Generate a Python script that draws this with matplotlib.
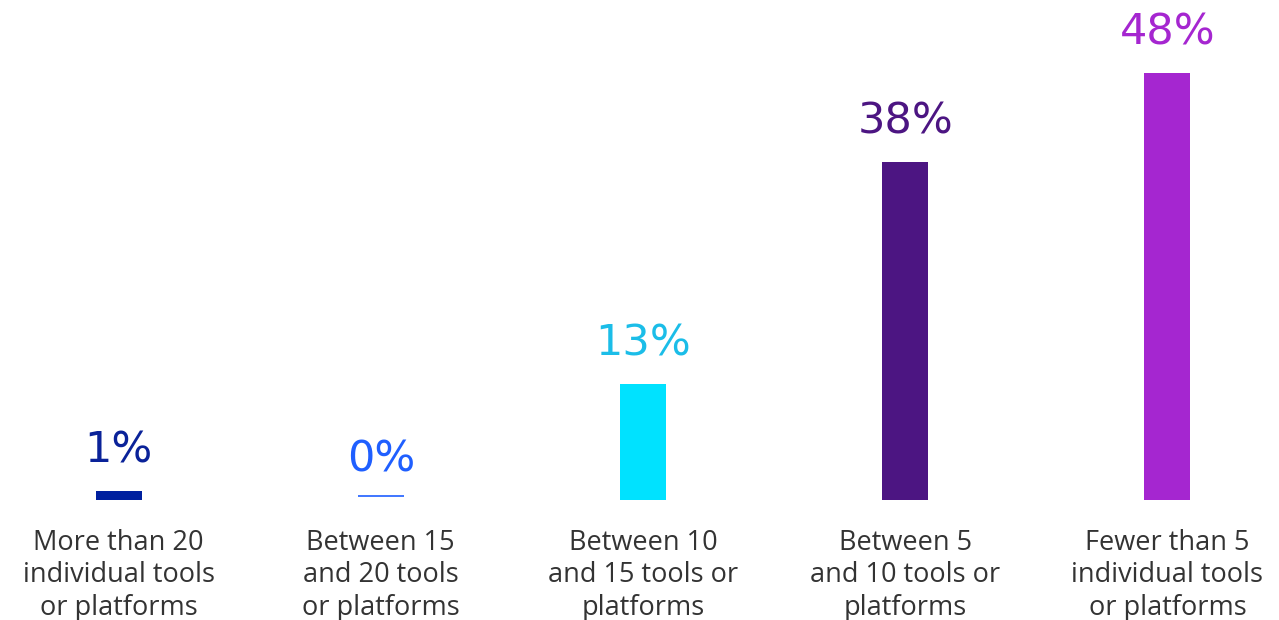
import matplotlib
matplotlib.use("Agg")
import matplotlib.pyplot as plt

categories = [
    "More than 20\nindividual tools\nor platforms",
    "Between 15\nand 20 tools\nor platforms",
    "Between 10\nand 15 tools or\nplatforms",
    "Between 5\nand 10 tools or\nplatforms",
    "Fewer than 5\nindividual tools\nor platforms",
]
values = [1, 0, 13, 38, 48]
bar_colors = ["#00209F", "#1F5FFF", "#00E2FF", "#4C1582", "#A526D0"]
label_colors = ["#0A2299", "#1F5FFF", "#1BBDE8", "#4C1582", "#A526D0"]

plt.rcParams["font.family"] = ["Open Sans", "DejaVu Sans"]

fig = plt.figure(figsize=(12.79, 6.2), dpi=100)
ax = fig.add_axes([0, 0.1935, 1, 0.8065])

x = list(range(len(values)))
bar_w = 0.175
ax.bar(x, values, width=bar_w, color=bar_colors, linewidth=0)

# zero-valued bar shown as a thin hairline
for xi, v, c in zip(x, values, bar_colors):
    if v == 0:
        ax.plot([xi - bar_w / 2, xi + bar_w / 2], [0.45, 0.45], color=c,
                lw=1.2, solid_capstyle="butt")

for xi, v, c in zip(x, values, label_colors):
    ax.annotate(f"{v}%", xy=(xi, v), xytext=(0, 14), textcoords="offset points",
                ha="center", va="bottom", fontsize=31, family="DejaVu Sans",
                color=c)

ax.set_xlim(-0.4523, 4.4255)
ax.set_ylim(0, 56.2)
ax.set_xticks(x)
ax.set_xticklabels(categories, fontsize=19.5, color="#333333",
                   linespacing=1.2)
ax.tick_params(axis="x", length=0, pad=21)
ax.set_yticks([])
for s in ax.spines.values():
    s.set_visible(False)

fig.savefig("out.png", dpi=100, facecolor="white")
